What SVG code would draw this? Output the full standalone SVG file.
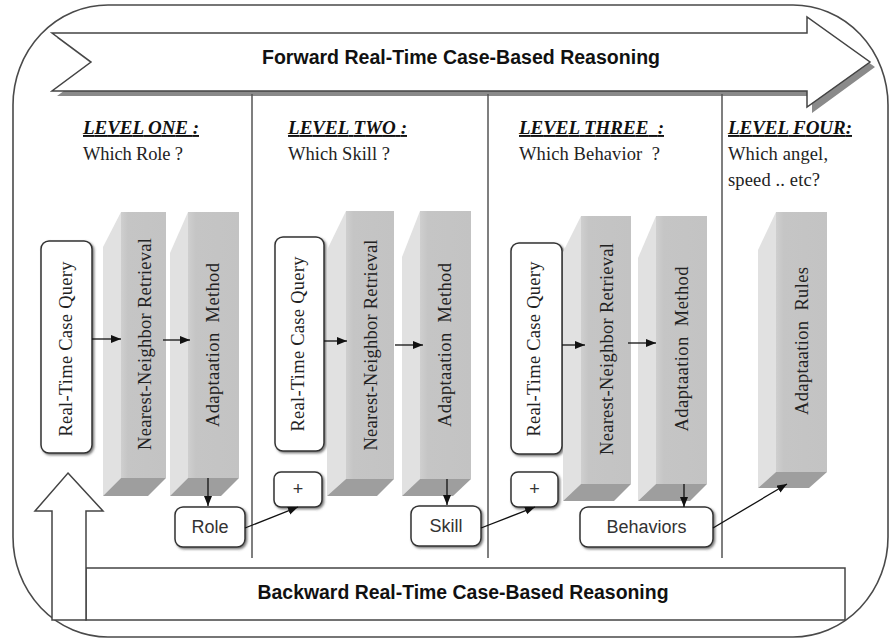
<svg xmlns="http://www.w3.org/2000/svg" width="891" height="642" viewBox="0 0 891 642">
<style>
.frame{fill:none;stroke:#4a4a4a;stroke-width:1.6}
.sep{stroke:#555;stroke-width:1.5}
.box{fill:#fff;stroke:#333;stroke-width:1.5}
.side{fill:#e1e1e1}
.front{fill:url(#fg)}
.bottom{fill:#9e9e9e}
.conn{stroke:#111;stroke-width:1.3;fill:none;marker-end:url(#ah)}
.vt{font-family:"Liberation Serif",serif;font-size:18.5px;fill:#222}
.head{font-family:"Liberation Serif",serif;font-weight:bold;font-style:italic;font-size:19px;text-decoration:underline;fill:#111}
.q{font-family:"Liberation Serif",serif;font-size:18.5px;fill:#222}
.lbl{font-family:"Liberation Sans",sans-serif;font-size:18px;fill:#333}
.big{font-family:"Liberation Sans",sans-serif;font-weight:bold;font-size:19.5px;fill:#111}
.shape{fill:#fff;stroke:#444;stroke-width:1.5}
</style>
<defs>
<linearGradient id="fg" x1="0" y1="0" x2="1" y2="0">
<stop offset="0" stop-color="#cfcfcf"/>
<stop offset="0.15" stop-color="#c5c5c5"/>
<stop offset="1" stop-color="#c3c3c3"/>
</linearGradient>
<marker id="ah" markerUnits="userSpaceOnUse" markerWidth="11" markerHeight="9" refX="10" refY="4" orient="auto">
<path d="M0,0 L10,4 L0,8 z" fill="#111"/>
</marker>
<filter id="ds" x="-20%" y="-20%" width="140%" height="140%">
<feDropShadow dx="1.5" dy="1.5" stdDeviation="0.8" flood-color="#555" flood-opacity="0.8"/>
</filter>
</defs>
<rect width="891" height="642" fill="#fff"/>
<g id="frame">
<rect class="frame" x="13" y="5" width="875" height="632" rx="95" ry="100"/>
</g>
<g id="forward">
<polygon points="57,38 812,38 812,22 875,67 812,113 812,96 57,96 96,67" fill="#8a8a8a"/>
<polygon class="shape" points="52,33 807,33 807,17 870,62 807,107 807,91 52,91 91,62"/>
<text class="big" x="461" y="64" text-anchor="middle" textLength="398" lengthAdjust="spacingAndGlyphs">Forward Real-Time Case-Based Reasoning</text>
</g>
<g id="separators">
<line class="sep" x1="252" y1="94" x2="252" y2="558"/>
<line class="sep" x1="488" y1="94" x2="488" y2="558"/>
<line class="sep" x1="722" y1="94" x2="722" y2="558"/>
</g>
<g id="level-one">
<text class="head" x="83" y="134" textLength="116" lengthAdjust="spacing">LEVEL ONE :</text>
<text class="q" x="83" y="160" textLength="100" lengthAdjust="spacing">Which Role ?</text>
</g>
<g id="level-two">
<text class="head" x="288" y="134" textLength="119" lengthAdjust="spacing">LEVEL TWO :</text>
<text class="q" x="288" y="160" textLength="102" lengthAdjust="spacing">Which Skill ?</text>
</g>
<g id="level-three">
<text class="head" x="519" y="134" textLength="145" lengthAdjust="spacing" xml:space="preserve">LEVEL THREE  :</text>
<text class="q" x="519" y="160" textLength="141" lengthAdjust="spacing" xml:space="preserve">Which Behavior  ?</text>
</g>
<g id="level-four">
<text class="head" x="728" y="134" textLength="124" lengthAdjust="spacing">LEVEL FOUR:</text>
<text class="q" x="728" y="160" textLength="100" lengthAdjust="spacing">Which angel,</text>
<text class="q" x="728" y="186" textLength="92" lengthAdjust="spacing">speed .. etc?</text>
</g>
<g id="query-1">
<rect class="box" x="41" y="241" width="51" height="212" rx="8" filter="url(#ds)"/>
<text class="vt" transform="translate(66,349) rotate(-90)" text-anchor="middle" dominant-baseline="central" textLength="175" lengthAdjust="spacing">Real-Time Case Query</text>
</g>
<g id="nn-1">
<polygon class="side" points="103,247 121,212 121,478 103,496"/>
<rect class="front" x="121" y="212" width="45" height="266"/>
<polygon class="bottom" points="103,496 121,478 166,478 148,496"/>
<text class="vt" transform="translate(145,344) rotate(-90)" text-anchor="middle" dominant-baseline="central" textLength="212" lengthAdjust="spacing">Nearest-Neighbor Retrieval</text>
</g>
<g id="am-1">
<polygon class="side" points="170,253 188,212 188,478 170,496"/>
<rect class="front" x="188" y="212" width="51" height="266"/>
<polygon class="bottom" points="170,496 188,478 239,478 221,496"/>
<text class="vt" transform="translate(213,345) rotate(-90)" text-anchor="middle" dominant-baseline="central" textLength="164" lengthAdjust="spacing" xml:space="preserve">Adaptaation  Method</text>
</g>
<g id="role">
<rect class="box" x="175" y="507" width="70" height="40" rx="8" filter="url(#ds)"/>
<text class="lbl" x="210" y="527" text-anchor="middle" dominant-baseline="central">Role</text>
</g>
<g id="plus-2">
<rect class="box" x="274" y="472" width="48" height="35" rx="7" filter="url(#ds)"/>
<text class="lbl" x="298" y="489" text-anchor="middle" dominant-baseline="central">+</text>
</g>
<g id="query-2">
<rect class="box" x="275" y="237" width="49" height="214" rx="8" filter="url(#ds)"/>
<text class="vt" transform="translate(298,344) rotate(-90)" text-anchor="middle" dominant-baseline="central" textLength="175" lengthAdjust="spacing">Real-Time Case Query</text>
</g>
<g id="nn-2">
<polygon class="side" points="327,250 346,211 346,479 327,496"/>
<rect class="front" x="346" y="211" width="48" height="268"/>
<polygon class="bottom" points="327,496 346,479 394,479 377,496"/>
<text class="vt" transform="translate(371,345) rotate(-90)" text-anchor="middle" dominant-baseline="central" textLength="211" lengthAdjust="spacing">Nearest-Neighbor Retrieval</text>
</g>
<g id="am-2">
<polygon class="side" points="402,257 420,211 420,479 402,496"/>
<rect class="front" x="420" y="211" width="51" height="268"/>
<polygon class="bottom" points="402,496 420,479 471,479 453,496"/>
<text class="vt" transform="translate(445,345) rotate(-90)" text-anchor="middle" dominant-baseline="central" textLength="164" lengthAdjust="spacing" xml:space="preserve">Adaptaation  Method</text>
</g>
<g id="skill">
<rect class="box" x="411" y="506" width="70" height="40" rx="8" filter="url(#ds)"/>
<text class="lbl" x="446" y="526" text-anchor="middle" dominant-baseline="central">Skill</text>
</g>
<g id="plus-3">
<rect class="box" x="511" y="472" width="47" height="35" rx="7" filter="url(#ds)"/>
<text class="lbl" x="534.5" y="489" text-anchor="middle" dominant-baseline="central">+</text>
</g>
<g id="query-3">
<rect class="box" x="511" y="243" width="51" height="211" rx="8" filter="url(#ds)"/>
<text class="vt" transform="translate(534,349) rotate(-90)" text-anchor="middle" dominant-baseline="central" textLength="175" lengthAdjust="spacing">Real-Time Case Query</text>
</g>
<g id="nn-3">
<polygon class="side" points="563,252 581,216 581,484 563,501"/>
<rect class="front" x="581" y="216" width="50" height="268"/>
<polygon class="bottom" points="563,501 581,484 631,484 614,501"/>
<text class="vt" transform="translate(607,349) rotate(-90)" text-anchor="middle" dominant-baseline="central" textLength="212" lengthAdjust="spacing">Nearest-Neighbor Retrieval</text>
</g>
<g id="am-3">
<polygon class="side" points="638,258 656,216 656,484 638,501"/>
<rect class="front" x="656" y="216" width="51" height="268"/>
<polygon class="bottom" points="638,501 656,484 707,484 690,501"/>
<text class="vt" transform="translate(682,349) rotate(-90)" text-anchor="middle" dominant-baseline="central" textLength="165" lengthAdjust="spacing" xml:space="preserve">Adaptaation  Method</text>
</g>
<g id="behaviors">
<rect class="box" x="580" y="507" width="133" height="40" rx="8" filter="url(#ds)"/>
<text class="lbl" x="646.5" y="527" text-anchor="middle" dominant-baseline="central">Behaviors</text>
</g>
<g id="rules-4">
<polygon class="side" points="758,250 776,212 776,472 758,488"/>
<rect class="front" x="776" y="212" width="51" height="260"/>
<polygon class="bottom" points="758,488 776,472 827,472 809,488"/>
<text class="vt" transform="translate(802,341) rotate(-90)" text-anchor="middle" dominant-baseline="central" textLength="148" lengthAdjust="spacing" xml:space="preserve">Adaptaation  Rules</text>
</g>
<g id="backward">
<rect class="shape" x="86" y="568" width="759" height="52"/>
<text class="big" x="463" y="599" text-anchor="middle" textLength="411" lengthAdjust="spacingAndGlyphs">Backward Real-Time Case-Based Reasoning</text>
</g>
<g id="backward-arrow">
<polygon class="shape" points="68,473 103,511 86,511 86,620 52,620 52,511 35,511"/>
</g>
<g id="connectors">
<line class="conn" x1="92" y1="339" x2="121" y2="339"/>
<line class="conn" x1="163" y1="340" x2="190" y2="340"/>
<line class="conn" x1="208" y1="478" x2="208" y2="506"/>
<line class="conn" x1="245" y1="528" x2="298" y2="507"/>
<line class="conn" x1="324" y1="341" x2="347" y2="341"/>
<line class="conn" x1="395" y1="345" x2="423" y2="345"/>
<line class="conn" x1="447" y1="479" x2="447" y2="505"/>
<line class="conn" x1="481" y1="528" x2="535" y2="507"/>
<line class="conn" x1="562" y1="345" x2="585" y2="345"/>
<line class="conn" x1="628" y1="343" x2="656" y2="343"/>
<line class="conn" x1="684" y1="484" x2="684" y2="507"/>
<line class="conn" x1="713" y1="528" x2="787" y2="484"/>
</g>
</svg>
